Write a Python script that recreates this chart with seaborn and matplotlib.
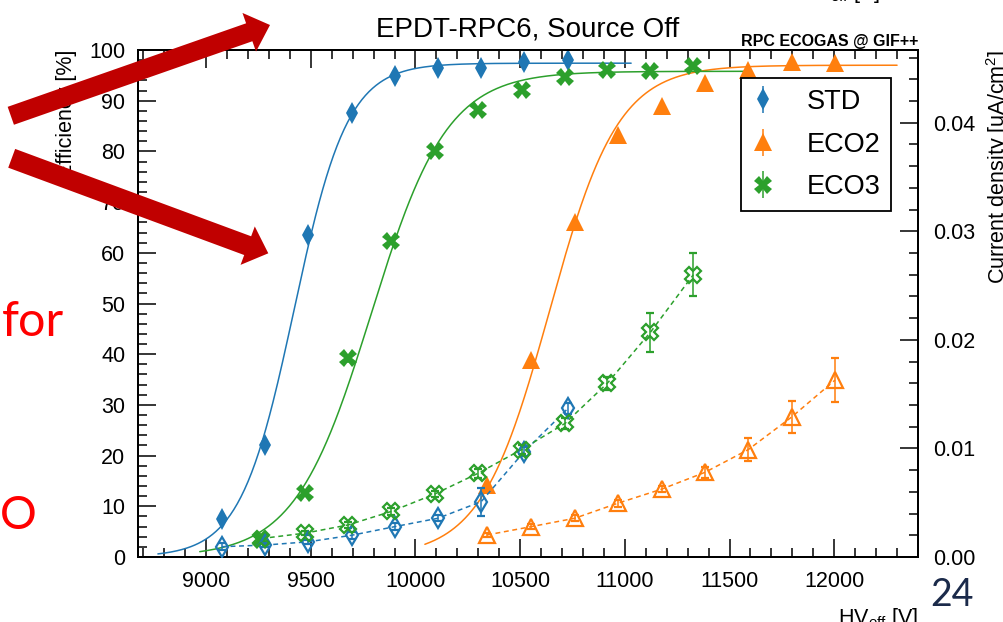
import numpy as np
import pandas as pd
import matplotlib
matplotlib.use("Agg")
import matplotlib.pyplot as plt
from matplotlib.ticker import MultipleLocator, FormatStrFormatter
from matplotlib.patches import FancyArrow
import seaborn as sns

# ---------------- data ----------------
gases = ["STD", "ECO2", "ECO3"]

# STD gas mixture
hv_std = [9076, 9282, 9488, 9695, 9902, 10108, 10314, 10519, 10729]
eff_std = [7.4, 22.1, 63.5, 87.6, 94.9, 96.4, 96.4, 97.7, 98.0]
eff_err_std = [0.6, 0.8, 0.9, 0.7, 0.5, 0.4, 0.4, 0.3, 0.3]
cur_std = [0.00095, 0.0011, 0.0014, 0.0020, 0.0028, 0.00357, 0.0051, 0.0097, 0.0137]
cur_err_std = [0.0003, 0.0002, 0.0002, 0.0003, 0.0003, 0.0003, 0.0013, 0.0004, 0.0005]

# ECO2 gas mixture
hv_eco2 = [10342, 10554, 10761, 10966, 11176, 11383, 11590, 11797, 12004]
eff_eco2 = [14.2, 38.9, 66.1, 83.2, 89.0, 93.4, 96.1, 97.7, 97.4]
eff_err_eco2 = [0.8, 0.9, 0.8, 0.6, 0.5, 0.4, 0.3, 0.3, 0.3]
cur_eco2 = [0.00203, 0.0028, 0.00357, 0.00495, 0.00625, 0.0078, 0.0099, 0.0129, 0.0163]
cur_err_eco2 = [0.0002, 0.0002, 0.0003, 0.0003, 0.0003, 0.0005, 0.0011, 0.0015, 0.0020]

# ECO3 gas mixture
hv_eco3 = [9264, 9474, 9678, 9885, 10092, 10298, 10507, 10714, 10916, 11122, 11327]
eff_eco3 = [3.4, 12.6, 39.2, 62.4, 80.1, 88.2, 92.1, 94.7, 96.1, 95.9, 96.9]
eff_err_eco3 = [0.5, 0.7, 0.9, 0.8, 0.6, 0.5, 0.4, 0.4, 0.3, 0.3, 0.3]
cur_eco3 = [0.0017, 0.0022, 0.00295, 0.0042, 0.0058, 0.0077, 0.0099, 0.0123, 0.0160, 0.0207, 0.0260]
cur_err_eco3 = [0.0002, 0.0002, 0.0003, 0.0003, 0.0003, 0.0004, 0.0004, 0.0005, 0.0006, 0.0018, 0.0020]

# sigmoid fit results: eff = plateau / (1 + exp(-slope * (HV - HV50)))
fit_plateau = [97.4, 97.0, 95.8]
fit_slope = [0.0078, 0.0061, 0.0055]      # 1/V
fit_hv50 = [9420, 10640, 9788]             # V
fit_hv_lo = [8770, 10045, 8970]
fit_hv_hi = [11030, 12300, 11600]

x_ticks = [9000, 9500, 10000, 10500, 11000, 11500, 12000]

hv = dict(zip(gases, [hv_std, hv_eco2, hv_eco3]))
eff = dict(zip(gases, [eff_std, eff_eco2, eff_eco3]))
eff_err = dict(zip(gases, [eff_err_std, eff_err_eco2, eff_err_eco3]))
cur = dict(zip(gases, [cur_std, cur_eco2, cur_eco3]))
cur_err = dict(zip(gases, [cur_err_std, cur_err_eco2, cur_err_eco3]))

palette = {"STD": "#1f77b4", "ECO2": "#ff7f0e", "ECO3": "#2ca02c"}
markers = {"STD": "d", "ECO2": "^", "ECO3": "X"}
msize = {"STD": 11.0, "ECO2": 12.8, "ECO3": 12.8}

# ---------------- style ----------------
sns.set_theme(style="ticks")
plt.rcParams.update({
    "font.family": ["Liberation Sans", "DejaVu Sans"],
    "mathtext.fontset": "custom",
    "mathtext.rm": "Liberation Sans",
    "mathtext.it": "Liberation Sans:italic",
    "mathtext.bf": "Liberation Sans:bold",
    "lines.dashed_pattern": [3.2, 2.4],
    "axes.edgecolor": "black",
    "axes.linewidth": 1.4,
    "xtick.color": "black",
    "ytick.color": "black",
    "text.color": "black",
    "axes.labelcolor": "black",
})

W, H = 1004, 622
fig = plt.figure(figsize=(W / 100, H / 100), dpi=100)
ax = fig.add_axes([138 / W, 1 - 557 / H, 780 / W, 507 / H])
ax2 = ax.twinx()

# fitted efficiency curves
fit_frames = []
for g, a, k, h, lo, hi in zip(gases, fit_plateau, fit_slope, fit_hv50, fit_hv_lo, fit_hv_hi):
    x = np.linspace(lo, hi, 400)
    fit_frames.append(pd.DataFrame({"gas": g, "hv": x, "eff": a / (1 + np.exp(-k * (x - h)))}))
fit_df = pd.concat(fit_frames, ignore_index=True)
sns.lineplot(data=fit_df, x="hv", y="eff", hue="gas", palette=palette,
             linewidth=1.1, legend=False, estimator=None, sort=False, ax=ax)

# current density, dashed connecting lines
cur_df = pd.concat([pd.DataFrame({"gas": g, "hv": hv[g], "j": cur[g]}) for g in gases],
                   ignore_index=True)
sns.lineplot(data=cur_df, x="hv", y="j", hue="gas", palette=palette, linestyle="--",
             linewidth=1.1, legend=False, estimator=None, sort=False, ax=ax2)

handles = []
for g in gases:
    c = palette[g]
    h = ax.errorbar(hv[g], eff[g], yerr=eff_err[g], fmt=markers[g], color=c,
                    ms=msize[g], mew=0, capsize=3.1, elinewidth=1.1, capthick=1.1,
                    zorder=4, label=g)
    handles.append(h)
    ax2.errorbar(hv[g], cur[g], yerr=cur_err[g], fmt=markers[g], color=c,
                 mfc="none", mec=c, mew=1.6, ms=msize[g] * 0.95, capsize=3.1,
                 elinewidth=1.1, capthick=1.1, zorder=4)

# ---------------- axes ----------------
ax.set_xlim(8675, 12400)
ax.set_ylim(0, 100)
ax2.set_ylim(0, 0.0467)

ax.set_xticks(x_ticks)
ax.xaxis.set_minor_locator(MultipleLocator(100))
ax.yaxis.set_major_locator(MultipleLocator(10))
ax.yaxis.set_minor_locator(MultipleLocator(2))
ax2.yaxis.set_major_locator(MultipleLocator(0.01))
ax2.yaxis.set_minor_locator(MultipleLocator(0.002))
ax2.yaxis.set_major_formatter(FormatStrFormatter("%.2f"))

ax.tick_params(which="both", direction="in", top=True, right=False,
               labelsize=15.5, width=1.1, color="black")
ax.tick_params(which="major", length=13)
ax.tick_params(which="minor", length=6.5)
ax.tick_params(axis="x", pad=10)
ax.tick_params(axis="y", pad=9)
ax2.tick_params(axis="y", which="both", direction="in", labelsize=15.5,
                width=1.1, color="black", pad=11)
ax2.tick_params(axis="y", which="major", length=13)
ax2.tick_params(axis="y", which="minor", length=6.5)
for sp in ax2.spines.values():
    sp.set_linewidth(1.4)
    sp.set_color("black")

ax.set_xlabel("HV$_{\\rm eff}$ [V]", loc="right", fontsize=15.5, labelpad=10)
ax.set_ylabel("Efficiency [%]", loc="top", fontsize=15.5, labelpad=9)
ax2.set_ylabel("Current density [uA/cm$^2$]", loc="top", fontsize=15.5, labelpad=6)
ax.set_title("EPDT-RPC6, Source Off", fontsize=20, pad=10)
ax.text(1.0, 1.008, "RPC ECOGAS @ GIF++", transform=ax.transAxes, ha="right",
        va="baseline", fontsize=11.5, fontweight="bold")

leg = ax2.legend(handles, gases, loc="upper right", bbox_to_anchor=(0.9654, 0.9448),
                 borderaxespad=0, fontsize=19.5, frameon=True, fancybox=False,
                 edgecolor="black", framealpha=1, borderpad=0.4, handlelength=0.8,
                 handletextpad=1.2, labelspacing=0.62, numpoints=1)
leg.get_frame().set_linewidth(1.3)
leg.set_zorder(20)

# ---------------- slide overlay ----------------
ov = fig.add_axes([0, 0, 1, 1], zorder=30)
ov.set_xlim(0, W)
ov.set_ylim(H, 0)
ov.axis("off")
ov.patch.set_alpha(0)

arrow_red = "#C00000"
ov.add_patch(FancyArrow(10.8, 115.8, 259.2, -90.8, width=19, head_width=41,
                        head_length=22, length_includes_head=True,
                        color=arrow_red, lw=0))
ov.add_patch(FancyArrow(11.7, 158.3, 256.6, 95.0, width=20, head_width=41,
                        head_length=22, length_includes_head=True,
                        color=arrow_red, lw=0))

ov.text(2, 336.5, "for", color="#FF0000", fontsize=35, family=["Lato", "DejaVu Sans"],
        ha="left", va="baseline")
ov.text(0, 529, "O", color="#FF0000", fontsize=33, family=["Lato", "DejaVu Sans"],
        ha="left", va="baseline")
ov.text(930, 606.5, "24", color="#1B2A4A", fontsize=27, family=["Lato", "DejaVu Sans"],
        ha="left", va="baseline")
ov.text(880, -2, "HV$_{\\rm eff}$ [V]", fontsize=15.5, ha="right", va="baseline")

fig.savefig("out.png", dpi=100)
